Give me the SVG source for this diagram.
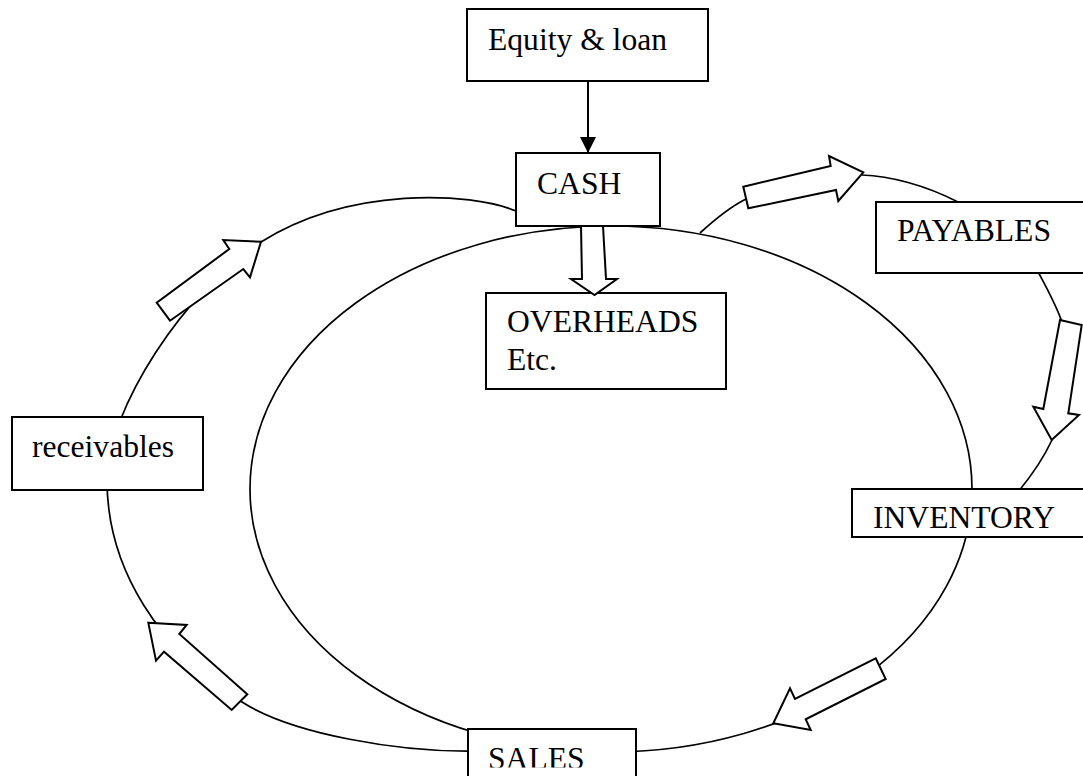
<svg xmlns="http://www.w3.org/2000/svg" width="1083" height="776" viewBox="0 0 1083 776">
  <style>
    .box { fill: #fff; stroke: #000; stroke-width: 2; }
    .curve { fill: none; stroke: #000; stroke-width: 1.7; }
    .blk { fill: #fff; stroke: #000; stroke-width: 2; stroke-linejoin: miter; }
    .lbl { font-family: "Liberation Serif", "Times New Roman", serif; font-size: 31.6px; fill: #000; }
  </style>
  <defs>
    <marker id="head" viewBox="0 0 16 16" refX="16" refY="8" markerWidth="16" markerHeight="16" markerUnits="userSpaceOnUse" orient="auto">
      <path d="M0,0 L16,8 L0,16 Z" fill="#000"/>
    </marker>
    <clipPath id="salesClip"><rect x="0" y="0" width="1083" height="767.5"/></clipPath>
  </defs>
  <rect width="1083" height="776" fill="#fff"/>

  <g id="connectors">
    <!-- inner cycle ellipse -->
    <ellipse class="curve" cx="611" cy="489" rx="361" ry="263"/>
    <!-- left outer arc -->
    <path class="curve" d="M516 211 C470 192, 350 186, 261 242 C185 290, 107 410, 107 480 C107 570, 160 650, 242 702 C292 734, 400 753, 480 751"/>
    <!-- right loop arc pieces -->
    <path class="curve" d="M700 233 C712 222, 728 208, 746 199"/>
    <path class="curve" d="M862 175 C890 176, 925 185, 958 202"/>
    <path class="curve" d="M1035 266 C1045 285, 1055 302, 1062 322"/>
    <path class="curve" d="M1052 440 C1045 455, 1032 475, 1018 492"/>
    <!-- equity to cash -->
    <line x1="588" y1="81" x2="588" y2="153" stroke="#000" stroke-width="2" marker-end="url(#head)"/>
    <!-- block arrows -->
    <polygon class="blk" points="743.3,186.7 830.7,166 829,156 863.3,172.3 838.3,201 836,190 748.3,208.3"/>
    <polygon class="blk" points="1060,320 1081.7,325 1068.3,413.3 1079,415 1051.7,440 1033.3,406.7 1043.3,409"/>
    <polygon class="blk" points="875.7,658.3 885.7,679 805.7,719.3 810.7,730 773.3,723.3 790,688.3 795,699"/>
    <polygon class="blk" points="148.3,622.7 186.7,625 179.3,634 247.3,694.3 231.7,710 164,651.7 156,660.7"/>
    <polygon class="blk" points="156.7,302.7 170,320.7 243.3,269 250,277.3 261,241.7 223.3,240 229.3,249"/>
  </g>

  <g id="equity">
    <rect class="box" x="467" y="9" width="241" height="72"/>
    <text class="lbl" x="488" y="50">Equity &amp; loan</text>
  </g>
  <g id="cash">
    <rect class="box" x="516" y="153" width="144" height="73"/>
    <text class="lbl" x="537" y="194">CASH</text>
  </g>
  <g id="overheads">
    <rect class="box" x="486" y="293" width="240" height="96"/>
    <text class="lbl" x="507" y="332">OVERHEADS</text>
    <text class="lbl" x="507" y="370">Etc.</text>
  </g>
  <g id="overheads-arrow">
    <polygon class="blk" points="581,226 603,226 606,279 617,279 594.5,295 571,279 582,279"/>
  </g>
  <g id="payables">
    <rect class="box" x="876" y="202" width="220" height="71"/>
    <text class="lbl" x="897" y="241">PAYABLES</text>
  </g>
  <g id="inventory">
    <rect class="box" x="852" y="489" width="240" height="48"/>
    <text class="lbl" x="873" y="528">INVENTORY</text>
  </g>
  <g id="sales">
    <rect class="box" x="468" y="729" width="168" height="70"/>
    <text class="lbl" x="488" y="769" clip-path="url(#salesClip)">SALES</text>
  </g>
  <g id="receivables">
    <rect class="box" x="12" y="417" width="191" height="73"/>
    <text class="lbl" x="32" y="457">receivables</text>
  </g>
</svg>
